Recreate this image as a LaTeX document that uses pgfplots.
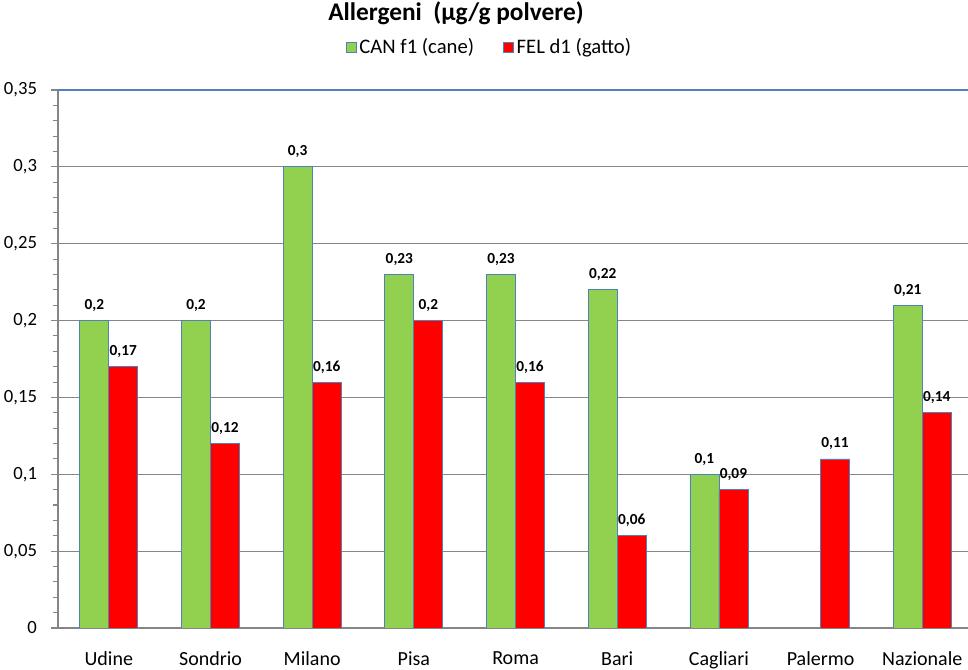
\documentclass[border=0pt]{standalone}
\usepackage{fontspec}
\setmainfont{Carlito}
\usepackage{pgfplots}
\pgfplotsset{compat=1.18}
\definecolor{cgreen}{HTML}{92D050}
\definecolor{cred}{HTML}{FF0000}
\definecolor{cedge}{HTML}{4F81BD}
\definecolor{cgrid}{HTML}{868686}
\begin{document}
\begin{tikzpicture}[x=0.75pt,y=0.75pt]
\path[use as bounding box] (-58,-42) rectangle (910,628);
\begin{axis}[
  at={(0,0)}, anchor=south west, scale only axis,
  width=682.5pt, height=403.5pt,
  xmin=-0.5, xmax=8.45, ymin=0, ymax=0.35,
  ybar=0pt, bar width=21.75pt,
  axis x line*=bottom, axis y line*=left,
  axis line style={cgrid, line width=0.8pt, -},
  xtick={0,1,2,3,4,5,6,7,8},
  xticklabels={Udine,Sondrio,Milano,Pisa,Roma,Bari,Cagliari,Palermo,Nazionale},
  x tick style={draw=none},
  xticklabel style={font=\fontsize{15}{17}\selectfont, yshift=-9pt},
  ytick={0,0.05,0.1,0.15,0.2,0.25,0.3,0.35},
  yticklabels={0,{0,05},{0,1},{0,15},{0,2},{0,25},{0,3},{0,35}},
  minor y tick num=4,
  tick align=outside,
  major tick length=5.25pt, minor tick length=3.75pt,
  y tick style={cgrid, line width=0.8pt},
  ymajorgrids, grid style={cgrid, line width=0.8pt},
  yticklabel style={font=\fontsize{14}{16}\selectfont, xshift=-7pt},
  scaled y ticks=false,
  legend columns=2,
  legend style={at={(0.4747,1.0799)}, anchor=center, draw=none, fill=none,
    font=\fontsize{15.5}{18}\selectfont, /tikz/every even column/.append style={column sep=20pt}},
  legend image code/.code={\draw[#1, draw=cedge, line width=0.5pt] (0pt,-3.75pt) rectangle (7.5pt,3.75pt);},
  point meta=explicit symbolic,
  nodes near coords={\pgfplotspointmeta},
  nodes near coords style={font=\bfseries\fontsize{11.5}{13}\selectfont, color=black, yshift=3pt},
]
\addplot[fill=cgreen, draw=cedge, line width=0.6pt] coordinates {
  (0,0.2) [0,2] (1,0.2) [0,2] (2,0.3) [0,3] (3,0.23) [0,23] (4,0.23) [0,23]
  (5,0.22) [0,22] (6,0.1) [0,1] (8,0.21) [0,21]};
\addlegendentry{CAN f1 (cane)}
\addplot[fill=cred, draw=cedge, line width=0.6pt] coordinates {
  (0,0.17) [0,17] (1,0.12) [0,12] (2,0.16) [0,16] (3,0.2) [0,2] (4,0.16) [0,16]
  (5,0.06) [0,06] (6,0.09) [0,09] (7,0.11) [0,11] (8,0.14) [0,14]};
\addlegendentry{FEL d1 (gatto)}
\draw[cedge, line width=0.8pt] (rel axis cs:0,1) -- (rel axis cs:1,1);
\end{axis}
\node[font=\bfseries\fontsize{19}{22}\selectfont] at (398,615) {Allergeni\ \ (µg/g polvere)};
\end{tikzpicture}
\end{document}
